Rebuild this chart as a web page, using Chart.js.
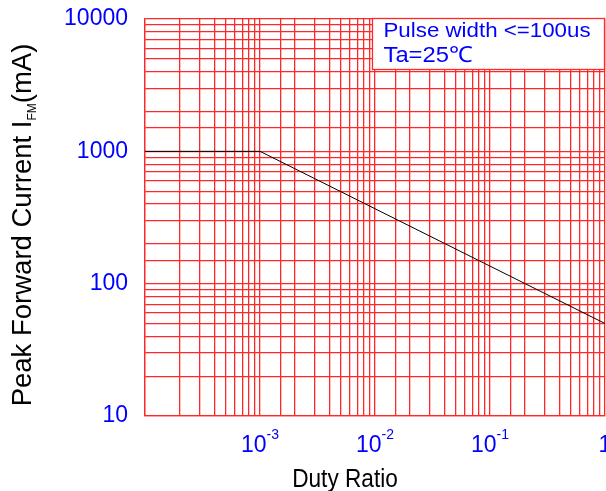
<!DOCTYPE html>
<html><head><meta charset="utf-8">
<script src="https://cdn.jsdelivr.net/npm/chart.js@4"></script>
<style>html,body{margin:0;padding:0;background:#fff}</style>
</head><body>
<canvas id="c" width="606" height="491"></canvas>
<script>
// ---- data ----
const dutyRatio = [1e-4, 1e-3, 1];
const peakCurrent = [1000, 1000, 50];
const xTickValues = [1e-3, 1e-2, 1e-1, 1];
const xTickBases = ['10', '10', '10', '1'];
const xTickExponents = ['-3', '-2', '-1', ''];
const yTickValues = [10, 100, 1000, 10000];
const xTitle = 'Duty Ratio';
const yTitleMain = 'Peak Forward Current I';
const yTitleSub = 'FM';
const yTitleTail = '(mA)';
const noteLines = ['Pulse width <=100us', 'Ta=25\u2103'];

const FONT = "'Liberation Sans', Arial, sans-serif";
const GRID = 'rgb(255,40,40)';
const BLUE = '#0000ff';

const textPlugin = {
  id: 'textPlugin',
  afterDatasetsDraw(chart) {
    const ctx = chart.ctx;
    const ca = chart.chartArea;
    const xs = chart.scales.x;
    ctx.save();
    // note box
    const bl = 372.5, bt = ca.top - 0.5, br = ca.right - 0.5, bb = 69.5;
    ctx.fillStyle = '#fff';
    ctx.fillRect(bl, bt, br - bl, bb - bt);
    ctx.strokeStyle = GRID;
    ctx.lineWidth = 1.3;
    ctx.strokeRect(bl, bt, br - bl, bb - bt);
    ctx.fillStyle = BLUE;
    ctx.textBaseline = 'alphabetic';
    ctx.textAlign = 'left';
    [[noteLines[0], 37, 20, 1.115], [noteLines[1], 62, 22, 1.08]].forEach(([t, y, fs, sx]) => {
      ctx.save();
      ctx.translate(383.5, y);
      ctx.scale(sx, 1);
      ctx.font = fs + 'px ' + FONT;
      ctx.fillText(t, 0, 0);
      ctx.restore();
    });
    // x tick labels with superscripts
    xTickValues.forEach((v, i) => {
      const px = xs.getPixelForValue(v);
      ctx.font = '23px ' + FONT;
      const wb = ctx.measureText(xTickBases[i]).width;
      ctx.font = '14px ' + FONT;
      const we = xTickExponents[i] ? ctx.measureText(xTickExponents[i]).width : 0;
      const start = px - (wb + we) / 2;
      ctx.fillStyle = BLUE;
      ctx.font = '23px ' + FONT;
      ctx.fillText(xTickBases[i], start, 452);
      if (xTickExponents[i]) {
        ctx.font = '14px ' + FONT;
        ctx.fillText(xTickExponents[i], start + wb, 439);
      }
    });
    // x title
    ctx.fillStyle = '#000';
    ctx.save();
    ctx.translate(345, 487);
    ctx.scale(0.87, 1);
    ctx.font = '26px ' + FONT;
    ctx.textAlign = 'center';
    ctx.fillText(xTitle, 0, 0);
    ctx.restore();
    // y title
    ctx.save();
    ctx.translate(31, 225);
    ctx.rotate(-Math.PI / 2);
    ctx.textAlign = 'left';
    ctx.font = '27.5px ' + FONT;
    const w1 = ctx.measureText(yTitleMain).width;
    const w3 = ctx.measureText(yTitleTail).width;
    ctx.font = '12px ' + FONT;
    const w2 = ctx.measureText(yTitleSub).width;
    let s = -(w1 + w2 + w3) / 2;
    ctx.font = '27.5px ' + FONT;
    ctx.fillText(yTitleMain, s, 0);
    ctx.font = '12px ' + FONT;
    ctx.fillText(yTitleSub, s + w1, 5);
    ctx.font = '27.5px ' + FONT;
    ctx.fillText(yTitleTail, s + w1 + w2, 0);
    ctx.restore();
    ctx.restore();
  }
};

new Chart(document.getElementById('c'), {
  type: 'line',
  data: {
    datasets: [{
      data: dutyRatio.map((x, i) => ({ x: x, y: peakCurrent[i] })),
      borderColor: '#000',
      borderWidth: 1,
      pointRadius: 0,
      fill: false,
      tension: 0
    }]
  },
  options: {
    responsive: false,
    animation: false,
    devicePixelRatio: 1,
    layout: { padding: { top: 19, right: 1, left: 0, bottom: 0 } },
    plugins: { legend: { display: false }, tooltip: { enabled: false } },
    scales: {
      x: {
        type: 'logarithmic', min: 1e-4, max: 1,
        grid: { color: GRID, lineWidth: 1.3, drawTicks: false },
        border: { display: true, color: GRID, width: 1.3 },
        ticks: { display: false, autoSkip: false },
        afterFit(s) { s.height = 75; s.paddingLeft = 0; s.paddingRight = 0; }
      },
      y: {
        type: 'logarithmic', min: 10, max: 10000,
        grid: { color: GRID, lineWidth: 1.3, drawTicks: false },
        border: { display: true, color: GRID, width: 1.3 },
        ticks: {
          autoSkip: false, color: BLUE, padding: 17,
          font: { family: FONT, size: 23 },
          callback: (v) => yTickValues.some(t => Math.abs(t - v) / t < 1e-6) ? String(Math.round(v)) : ''
        },
        afterFit(s) { s.width = 145; s.paddingTop = 0; s.paddingBottom = 0; }
      }
    }
  },
  plugins: [textPlugin]
});
</script>
</body></html>
